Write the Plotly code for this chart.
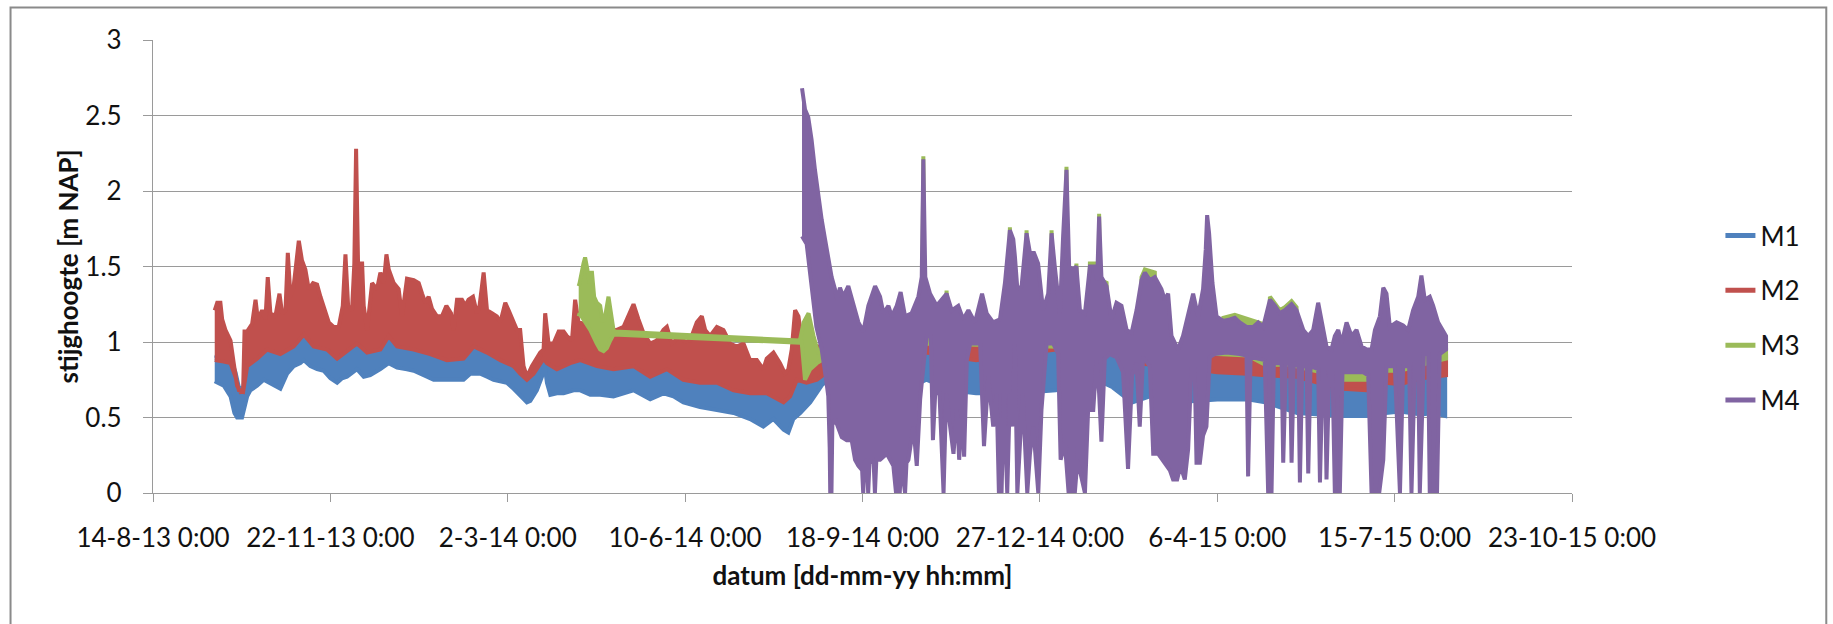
import pandas as pd
import plotly.graph_objects as go

# Piezometer heads (stijghoogte, m NAP) for four monitoring wells M1..M4.
# The hourly records fluctuate strongly, so each series is stored as the
# upper and lower envelope of its trace: (days since 14-8-2013, value).
START = pd.Timestamp("2013-08-14")

M1_UPPER = [
    (34.8, 0.91), (39.9, 0.90), (43.7, 0.89), (46.5, 0.80), (48.4, 0.70), (50.8, 0.69),
    (53.1, 0.87), (58.7, 0.92), (64.3, 0.98), (71.8, 0.95), (79.3, 1.00), (85.0, 1.08),
    (90.6, 1.00), (98.1, 0.98), (103.8, 0.92), (109.4, 0.97), (115.0, 1.02), (120.7, 0.96),
    (128.2, 0.98), (132.9, 1.07), (137.6, 1.00), (147.0, 0.98), (156.3, 0.95), (165.7, 0.91),
    (175.1, 0.92), (180.8, 1.00), (188.3, 0.96), (195.8, 0.91), (203.3, 0.87), (207.0, 0.82),
    (210.8, 0.78), (214.6, 0.82), (220.2, 0.92), (222.1, 0.89), (227.7, 0.85), (235.2, 0.89),
    (240.9, 0.91), (250.3, 0.87), (259.6, 0.85), (270.9, 0.87), (280.3, 0.80), (289.7, 0.85),
    (299.0, 0.78), (308.4, 0.76), (317.9, 0.76), (327.3, 0.71), (336.6, 0.69), (346.0, 0.69),
    (355.5, 0.63), (359.2, 0.67), (363.0, 0.78), (368.5, 0.76), (374.3, 0.78), (380.0, 0.83),
    (400.0, 0.88), (436.0, 0.96), (464.0, 0.91), (509.0, 0.98), (541.0, 0.96), (552.0, 0.89),
    (575.0, 0.87), (600.0, 0.83), (617.0, 0.82), (627.0, 0.81), (645.0, 0.80), (660.0, 0.75),
    (671.0, 0.72), (684.0, 0.71), (695.0, 0.76), (703.0, 0.75), (715.0, 0.79), (722.0, 0.80),
    (728.5, 0.80),
]
M1_LOWER = [
    (34.8, 0.74), (39.9, 0.71), (43.7, 0.64), (45.9, 0.53), (47.4, 0.50), (50.2, 0.50),
    (51.6, 0.57), (53.1, 0.64), (54.9, 0.68), (58.7, 0.71), (62.4, 0.75), (66.2, 0.73),
    (71.8, 0.69), (75.6, 0.79), (79.3, 0.84), (83.1, 0.86), (85.0, 0.88), (88.7, 0.84),
    (92.5, 0.82), (96.2, 0.81), (100.0, 0.76), (103.8, 0.73), (106.6, 0.76), (109.4, 0.77),
    (115.0, 0.82), (118.8, 0.77), (122.5, 0.78), (128.2, 0.82), (132.9, 0.86), (137.6, 0.83),
    (143.2, 0.82), (147.0, 0.81), (152.6, 0.78), (158.2, 0.75), (163.9, 0.75), (169.5, 0.75),
    (175.1, 0.75), (178.9, 0.79), (184.5, 0.79), (188.3, 0.77), (192.0, 0.75), (195.8, 0.74),
    (199.5, 0.73), (203.3, 0.69), (207.0, 0.65), (210.8, 0.60), (212.7, 0.61), (216.4, 0.68),
    (219.3, 0.77), (220.6, 0.86), (222.1, 0.73), (224.0, 0.65), (227.7, 0.66), (231.5, 0.66),
    (237.1, 0.68), (240.9, 0.68), (246.5, 0.65), (252.1, 0.65), (259.6, 0.64), (270.9, 0.68),
    (280.3, 0.62), (287.8, 0.66), (293.4, 0.64), (299.0, 0.60), (308.4, 0.57), (317.9, 0.55),
    (327.3, 0.53), (336.6, 0.49), (344.1, 0.44), (349.8, 0.49), (355.5, 0.42), (358.2, 0.40),
    (361.0, 0.49), (364.9, 0.53), (370.5, 0.60), (374.3, 0.66), (378.0, 0.73), (385.0, 0.70),
    (400.0, 0.68), (420.0, 0.66), (436.0, 0.75), (450.0, 0.68), (464.0, 0.66), (487.0, 0.66),
    (509.0, 0.68), (532.0, 0.75), (541.0, 0.70), (552.0, 0.60), (562.0, 0.64), (575.0, 0.60),
    (600.0, 0.62), (617.0, 0.62), (627.0, 0.60), (645.0, 0.53), (660.0, 0.52), (671.0, 0.51),
    (684.0, 0.51), (695.0, 0.53), (703.0, 0.54), (715.0, 0.52), (722.0, 0.53), (728.5, 0.51),
]

M2_UPPER = [
    (34.8, 1.21), (36.2, 1.26), (38.0, 1.26), (39.0, 1.15), (40.8, 1.08), (43.7, 1.01),
    (45.5, 0.86), (47.4, 0.71), (49.3, 0.67), (50.8, 0.68), (51.6, 1.07), (53.1, 1.07),
    (55.9, 1.12), (57.8, 1.28), (59.1, 1.15), (61.5, 1.21), (63.4, 1.15), (64.7, 1.43),
    (66.2, 1.19), (69.0, 1.17), (71.3, 1.32), (72.8, 1.19), (74.7, 1.21), (76.0, 1.59),
    (77.5, 1.30), (79.3, 1.37), (82.2, 1.67), (84.0, 1.54), (85.9, 1.48), (87.8, 1.35),
    (90.2, 1.39), (92.5, 1.38), (94.4, 1.30), (96.2, 1.24), (99.1, 1.13), (101.9, 1.10),
    (104.7, 1.10), (107.0, 1.24), (108.5, 1.58), (110.0, 1.24), (112.2, 1.21), (113.5, 1.52),
    (114.5, 2.28), (115.6, 1.52), (117.9, 1.52), (118.8, 1.24), (120.7, 1.08), (123.5, 1.39),
    (126.3, 1.35), (128.2, 1.46), (130.1, 1.39), (131.6, 1.58), (132.9, 1.48), (135.7, 1.39),
    (138.5, 1.35), (140.4, 1.17), (143.2, 1.42), (147.0, 1.41), (149.8, 1.39), (151.7, 1.32),
    (153.5, 1.26), (155.4, 1.30), (157.3, 1.22), (160.1, 1.17), (162.9, 1.17), (165.4, 1.24),
    (168.0, 1.19), (169.5, 1.08), (171.4, 1.28), (174.2, 1.28), (176.1, 1.24), (177.9, 1.28),
    (180.4, 1.30), (182.6, 1.19), (184.1, 1.24), (186.4, 1.46), (188.3, 1.21), (191.1, 1.19),
    (193.9, 1.17), (195.8, 1.13), (198.6, 1.26), (200.5, 1.21), (202.4, 1.15), (205.2, 1.08),
    (207.0, 1.08), (208.9, 0.84), (210.8, 0.77), (213.6, 0.84), (218.3, 0.93), (220.2, 0.95),
    (221.1, 1.19), (223.0, 0.99), (225.8, 0.99), (228.7, 1.07), (231.5, 1.07), (233.3, 1.04),
    (236.2, 1.01), (238.0, 1.28), (239.9, 1.13), (245.0, 1.12), (252.0, 1.10), (257.0, 1.08),
    (261.5, 1.08), (265.3, 1.10), (269.0, 1.21), (270.9, 1.25), (273.7, 1.15), (276.5, 1.06),
    (280.3, 0.99), (284.0, 1.01), (287.8, 1.08), (289.7, 1.10), (292.5, 0.99), (297.2, 1.04),
    (300.0, 1.00), (302.8, 1.01), (306.6, 1.13), (309.4, 1.17), (311.3, 1.08), (314.1, 1.04),
    (317.9, 1.10), (321.6, 1.08), (325.4, 0.99), (329.1, 0.97), (332.9, 0.99), (336.6, 0.88),
    (340.4, 0.88), (344.1, 0.82), (346.0, 0.89), (349.8, 0.93), (353.5, 0.86), (356.3, 0.79),
    (358.2, 0.82), (360.1, 0.95), (362.0, 1.21), (363.9, 1.17), (365.7, 1.01), (368.5, 0.99),
    (375.0, 0.97), (390.0, 0.98), (410.0, 0.98), (436.0, 1.00), (450.0, 0.98), (464.0, 0.99),
    (485.0, 0.97), (509.0, 0.98), (525.0, 0.96), (541.0, 0.97), (552.0, 0.95), (575.0, 0.93),
    (600.0, 0.93), (617.0, 0.92), (627.0, 0.86), (640.0, 0.86), (655.0, 0.82), (671.0, 0.76),
    (684.0, 0.76), (695.0, 0.82), (703.0, 0.82), (715.0, 0.86), (722.0, 0.88), (729.0, 0.90),
]
M2_LOWER = [
    (34.8, 0.88), (39.9, 0.87), (43.7, 0.86), (46.5, 0.77), (48.4, 0.68), (50.8, 0.67),
    (53.1, 0.84), (58.7, 0.89), (64.3, 0.95), (71.8, 0.92), (79.3, 0.97), (85.0, 1.05),
    (90.6, 0.97), (98.1, 0.95), (103.8, 0.89), (109.4, 0.94), (115.0, 0.99), (120.7, 0.93),
    (128.2, 0.95), (132.9, 1.04), (137.6, 0.97), (147.0, 0.95), (156.3, 0.92), (165.7, 0.88),
    (175.1, 0.89), (180.8, 0.97), (188.3, 0.93), (195.8, 0.88), (203.3, 0.84), (207.0, 0.79),
    (210.8, 0.75), (214.6, 0.79), (220.2, 0.89), (222.1, 0.86), (227.7, 0.82), (235.2, 0.86),
    (240.9, 0.88), (250.3, 0.84), (259.6, 0.82), (270.9, 0.84), (280.3, 0.77), (289.7, 0.82),
    (299.0, 0.75), (308.4, 0.73), (317.9, 0.73), (327.3, 0.68), (336.6, 0.66), (346.0, 0.66),
    (355.5, 0.60), (359.2, 0.64), (363.0, 0.75), (368.5, 0.73), (374.3, 0.75), (380.0, 0.80),
    (400.0, 0.85), (436.0, 0.93), (464.0, 0.88), (509.0, 0.95), (541.0, 0.93), (552.0, 0.86),
    (575.0, 0.84), (600.0, 0.80), (617.0, 0.79), (627.0, 0.78), (645.0, 0.77), (660.0, 0.72),
    (671.0, 0.69), (684.0, 0.68), (695.0, 0.73), (703.0, 0.72), (715.0, 0.76), (722.0, 0.77),
    (729.0, 0.78),
]

M3_UPPER = [
    (240.0, 1.37), (240.5, 1.39), (242.7, 1.52), (243.6, 1.56), (244.9, 1.48), (246.1, 1.39),
    (247.4, 1.47), (248.7, 1.30), (250.2, 1.26), (252.1, 1.24), (253.6, 1.13), (254.9, 1.17),
    (256.8, 1.30), (258.1, 1.19), (259.6, 1.08), (260.6, 1.07), (364.7, 1.01), (366.8, 1.13),
    (369.6, 1.19), (372.4, 1.04), (375.2, 0.92), (378.0, 1.00), (433.5, 1.02), (434.3, 2.23),
    (435.1, 1.02), (446.5, 1.02), (447.4, 1.34), (448.3, 1.02), (482.3, 1.02), (483.1, 1.76),
    (484.0, 1.02), (491.8, 1.02), (492.5, 1.74), (493.3, 1.02), (505.9, 1.02), (506.6, 1.74),
    (507.3, 1.02), (514.3, 1.02), (515.0, 2.16), (515.7, 1.02), (519.5, 1.02), (520.6, 1.52),
    (521.5, 1.02), (527.5, 1.02), (528.2, 1.52), (531.0, 1.52), (531.7, 1.02), (532.8, 1.02),
    (533.4, 1.85), (534.1, 1.02), (536.0, 1.02), (536.6, 1.39), (537.6, 1.40), (538.3, 1.02),
    (556.8, 1.02), (557.3, 1.43), (559.2, 1.48), (564.8, 1.46), (565.5, 0.96), (602.0, 0.95),
    (603.4, 1.16), (609.9, 1.18), (625.9, 1.12), (626.8, 0.95), (629.0, 0.95), (629.7, 1.30),
    (632.5, 1.26), (635.3, 1.21), (638.1, 1.23), (641.9, 1.27), (644.7, 1.23), (645.5, 0.95),
    (660.0, 0.90), (690.0, 0.86), (700.0, 0.86), (715.0, 0.92), (722.0, 0.95), (729.0, 0.95),
]
M3_LOWER = [
    (240.0, 1.17), (240.5, 1.19), (242.7, 1.15), (246.5, 1.08), (250.2, 0.99), (252.1, 0.95),
    (254.0, 0.94), (255.9, 0.96), (257.8, 1.01), (259.6, 1.05), (260.6, 1.055), (364.7, 0.995),
    (365.7, 1.00), (367.6, 0.75), (370.5, 0.82), (374.3, 0.86), (377.1, 0.88), (378.0, 0.96),
    (436.0, 0.99), (464.0, 0.98), (509.0, 0.97), (541.0, 0.96), (552.0, 0.94), (575.0, 0.92),
    (600.0, 0.92), (617.0, 0.91), (627.0, 0.85), (640.0, 0.85), (655.0, 0.81), (671.0, 0.75),
    (684.0, 0.75), (695.0, 0.81), (703.0, 0.81), (715.0, 0.85), (722.0, 0.87), (729.0, 0.89),
]

M4_UPPER = [
    (365.9, 2.68), (367.6, 2.54), (369.4, 2.49), (371.3, 2.34), (373.2, 2.14), (375.1, 1.96),
    (377.0, 1.81), (378.9, 1.68), (380.7, 1.54), (382.6, 1.43), (384.5, 1.35), (385.8, 1.28),
    (387.3, 1.36), (389.2, 1.30), (392.0, 1.37), (394.8, 1.24), (397.7, 1.13), (400.5, 1.07),
    (403.3, 1.24), (407.1, 1.37), (409.9, 1.30), (411.8, 1.19), (414.6, 1.24), (416.5, 1.17),
    (419.3, 1.24), (421.5, 1.33), (424.0, 1.17), (427.7, 1.19), (431.5, 1.30), (433.4, 1.43),
    (434.3, 2.21), (435.4, 1.43), (438.1, 1.32), (441.8, 1.24), (444.6, 1.28), (447.4, 1.32),
    (450.3, 1.21), (454.0, 1.24), (456.8, 1.15), (459.7, 1.21), (463.4, 1.13), (467.4, 1.32),
    (470.0, 1.19), (473.7, 1.13), (477.5, 1.15), (480.3, 1.39), (483.1, 1.74), (485.0, 1.68),
    (485.9, 1.57), (487.3, 1.35), (489.7, 1.37), (492.5, 1.72), (494.4, 1.59), (496.7, 1.59),
    (499.0, 1.52), (501.8, 1.21), (504.7, 1.32), (506.6, 1.72), (508.4, 1.50), (511.3, 1.19),
    (513.1, 1.70), (515.0, 2.14), (516.5, 1.50), (518.8, 1.48), (520.6, 1.50), (522.6, 1.21),
    (525.4, 1.19), (528.2, 1.50), (531.0, 1.50), (532.3, 1.41), (533.4, 1.83), (534.7, 1.43),
    (537.6, 1.37), (540.4, 1.15), (543.2, 1.26), (546.0, 1.24), (548.9, 1.08), (551.7, 1.06),
    (554.5, 1.21), (557.3, 1.41), (559.2, 1.46), (562.0, 1.41), (564.8, 1.43), (566.7, 1.39),
    (568.5, 1.35), (570.4, 1.28), (572.3, 1.32), (574.2, 1.04), (577.9, 0.95), (580.7, 1.04),
    (583.6, 1.19), (586.4, 1.32), (589.2, 1.17), (592.0, 1.35), (593.5, 1.61), (594.3, 1.84),
    (595.4, 1.72), (597.3, 1.39), (599.6, 1.17), (603.4, 1.14), (607.1, 1.15), (609.9, 1.16),
    (612.7, 1.13), (616.5, 1.10), (620.3, 1.10), (623.1, 1.13), (625.9, 1.10), (629.7, 1.28),
    (632.5, 1.24), (635.3, 1.19), (638.1, 1.21), (641.9, 1.25), (644.7, 1.21), (648.5, 1.08),
    (651.3, 1.04), (654.1, 1.08), (656.9, 1.26), (658.8, 1.13), (661.6, 0.97), (664.4, 0.95),
    (666.3, 1.04), (668.2, 1.08), (670.1, 0.99), (672.9, 1.13), (675.7, 1.04), (678.5, 1.08),
    (681.4, 0.97), (684.2, 0.95), (687.0, 0.95), (688.9, 1.08), (691.7, 1.17), (693.6, 1.36),
    (695.4, 1.32), (697.3, 1.10), (701.1, 1.13), (704.8, 1.11), (707.6, 1.08), (710.4, 1.21),
    (713.3, 1.30), (715.1, 1.44), (717.0, 1.28), (719.8, 1.30), (721.7, 1.24), (724.5, 1.13),
    (727.3, 1.08), (729.0, 1.04),
]
M4_LOWER = [
    (365.9, 1.70), (368.5, 1.65), (371.0, 1.40), (374.0, 1.10), (377.0, 0.95), (379.5, 0.75),
    (380.7, 0.64), (381.5, 0.30), (381.8, 0.00), (382.5, 0.00), (383.0, 0.45), (384.5, 0.49),
    (388.3, 0.37), (391.1, 0.35), (393.9, 0.35), (395.8, 0.22), (397.7, 0.18), (399.8, 0.15),
    (400.4, 0.00), (401.2, 0.20), (402.5, 0.22), (403.2, 0.00), (404.0, 0.22), (406.3, 0.20),
    (407.0, 0.00), (407.8, 0.22), (409.9, 0.22), (413.7, 0.26), (417.4, 0.18), (418.9, 0.00),
    (419.7, 0.18), (421.0, 0.00), (421.8, 0.20), (424.0, 0.00), (424.8, 0.20), (425.9, 0.22),
    (428.7, 0.44), (430.6, 0.18), (432.5, 0.62), (434.7, 0.88), (436.3, 1.04), (438.5, 1.04),
    (439.7, 0.35), (441.0, 0.66), (443.4, 0.66), (445.7, 0.00), (447.2, 0.66), (449.4, 0.44),
    (451.3, 0.26), (453.2, 0.55), (454.5, 0.22), (456.0, 0.55), (457.3, 0.24), (458.8, 0.88),
    (460.7, 0.99), (466.3, 0.99), (468.5, 0.31), (470.9, 0.77), (473.7, 0.44), (475.6, 0.66),
    (476.9, 0.00), (477.6, 0.50), (478.4, 0.00), (479.7, 0.66), (481.6, 0.00), (483.1, 0.66),
    (484.4, 0.44), (485.9, 0.99), (487.3, 0.00), (488.8, 0.33), (490.3, 0.66), (492.9, 0.00),
    (494.4, 0.26), (496.3, 0.44), (499.1, 0.00), (500.9, 0.55), (503.8, 0.99), (507.5, 0.99),
    (510.3, 0.92), (511.7, 0.22), (514.1, 0.33), (516.2, 0.00), (517.0, 0.30), (517.9, 0.00),
    (518.8, 0.30), (519.7, 0.00), (521.2, 0.22), (523.5, 0.11), (525.4, 0.00), (527.2, 0.55),
    (530.1, 0.55), (531.9, 0.88), (533.4, 0.66), (534.7, 0.34), (536.6, 0.89), (539.4, 0.92),
    (543.2, 0.90), (546.9, 0.80), (549.7, 0.16), (552.0, 0.78), (554.5, 0.86), (556.3, 0.44),
    (558.2, 0.90), (562.0, 0.84), (563.9, 0.26), (566.7, 0.26), (569.5, 0.22), (571.4, 0.18),
    (573.3, 0.15), (575.1, 0.09), (577.4, 0.09), (579.3, 0.18), (581.7, 0.09), (583.6, 0.29),
    (585.4, 0.82), (587.3, 0.82), (588.3, 0.20), (590.2, 0.20), (592.0, 0.38), (593.9, 0.44),
    (595.8, 0.90), (598.6, 0.92), (605.2, 0.93), (612.7, 0.92), (616.5, 0.91), (617.4, 0.11),
    (618.8, 0.90), (626.8, 0.88), (628.7, 0.00), (630.6, 0.00), (631.9, 0.86), (636.3, 0.86),
    (637.2, 0.20), (638.7, 0.86), (641.0, 0.86), (641.9, 0.20), (643.2, 0.86), (645.7, 0.84),
    (646.6, 0.07), (647.9, 0.84), (650.4, 0.84), (651.3, 0.13), (652.6, 0.84), (656.9, 0.82),
    (657.9, 0.07), (659.4, 0.80), (660.7, 0.80), (661.6, 0.09), (663.1, 0.80), (665.0, 0.80),
    (666.3, 0.00), (669.1, 0.00), (670.6, 0.80), (682.3, 0.80), (685.1, 0.78), (687.0, 0.00),
    (691.3, 0.00), (693.6, 0.22), (695.4, 0.84), (700.1, 0.84), (703.0, 0.00), (704.8, 0.84),
    (708.2, 0.84), (709.5, 0.00), (711.4, 0.86), (713.3, 0.86), (714.2, 0.00), (716.5, 0.92),
    (718.9, 0.92), (719.8, 0.00), (723.9, 0.00), (725.4, 0.92), (729.0, 0.95),
]

SERIES = ["M1", "M2", "M3", "M4"]
COLORS = ["#4F81BD", "#C0504D", "#9BBB59", "#8064A2"]
ENVELOPES = [(M1_UPPER, M1_LOWER), (M2_UPPER, M2_LOWER),
             (M3_UPPER, M3_LOWER), (M4_UPPER, M4_LOWER)]

TICK_DATES = ["2013-08-14", "2013-11-22", "2014-03-02", "2014-06-10", "2014-09-18",
              "2014-12-27", "2015-04-06", "2015-07-15", "2015-10-23"]
TICK_TEXT = ["14-8-13 0:00", "22-11-13 0:00", "2-3-14 0:00", "10-6-14 0:00",
             "18-9-14 0:00", "27-12-14 0:00", "6-4-15 0:00", "15-7-15 0:00",
             "23-10-15 0:00"]

X_TITLE = "datum [dd-mm-yy hh:mm]"
Y_TITLE = "stijghoogte [m NAP]"


def to_dates(days):
    return [START + pd.Timedelta(days=d) for d in days]


def outline(upper, lower):
    """Closed outline of a fluctuating record: along the upper envelope, back along the lower."""
    ud, uv = zip(*upper)
    ld, lv = zip(*lower)
    return to_dates(list(ud) + list(ld)[::-1]), list(uv) + list(lv)[::-1]


FONT = "Lato"
INK = "#111111"
GRID = "#9a9a9a"

fig = go.Figure()
for name, color, (upper, lower) in zip(SERIES, COLORS, ENVELOPES):
    x, y = outline(upper, lower)
    fig.add_trace(go.Scatter(
        x=x, y=y, mode="lines", fill="toself", fillcolor=color,
        line=dict(color=color, width=4), showlegend=False, hoverinfo="skip", name=name))

for name, color in zip(SERIES, COLORS):
    fig.add_trace(go.Scatter(
        x=[None], y=[None], mode="lines", name=name, legendgroup=name,
        line=dict(color=color, width=5)))

fig.update_layout(
    width=1833, height=624,
    margin=dict(l=152.5, r=260.5, t=40, b=130.7, pad=0),
    paper_bgcolor="white", plot_bgcolor="white",
    font=dict(family=FONT, size=26, color=INK),
    showlegend=True,
    legend=dict(x=1.1046, xanchor="left", y=0.62, yanchor="top",
                font=dict(family=FONT, size=26, color=INK),
                tracegroupgap=18, bgcolor="rgba(0,0,0,0)"),
    xaxis=dict(
        type="date", range=[TICK_DATES[0], TICK_DATES[-1]],
        tickmode="array", tickvals=TICK_DATES, ticktext=TICK_TEXT,
        ticks="outside", ticklen=8, tickwidth=1.3, tickcolor=GRID,
        showline=True, linecolor=GRID, linewidth=1.3,
        showgrid=False, zeroline=False, ticklabelstandoff=14,
        tickfont=dict(family=FONT, size=26, color=INK),
        title=dict(text="<b>" + X_TITLE + "</b>", standoff=14,
                   font=dict(family=FONT, size=26, color=INK)),
    ),
    yaxis=dict(
        range=[0, 3], tick0=0, dtick=0.5,
        ticks="outside", ticklen=9, tickwidth=1.3, tickcolor=GRID,
        showline=True, linecolor=GRID, linewidth=1.3,
        showgrid=True, gridcolor=GRID, gridwidth=1.3, zeroline=False,
        ticklabelstandoff=16,
        tickfont=dict(family=FONT, size=26, color=INK),
    ),
    annotations=[dict(text="<b>" + Y_TITLE + "</b>", textangle=-90,
                      xref="paper", yref="paper", x=-0.0606, y=0.5,
                      xanchor="center", yanchor="middle", showarrow=False,
                      font=dict(family=FONT, size=26, color=INK))],
    shapes=[dict(type="rect", xref="paper", yref="paper",
                 x0=-0.1004, x1=1.1792, y0=-0.3236, y1=1.0717,
                 line=dict(color="#8a8a8a", width=2), fillcolor="rgba(0,0,0,0)",
                 layer="below")],
)

fig.write_html("out.html")
